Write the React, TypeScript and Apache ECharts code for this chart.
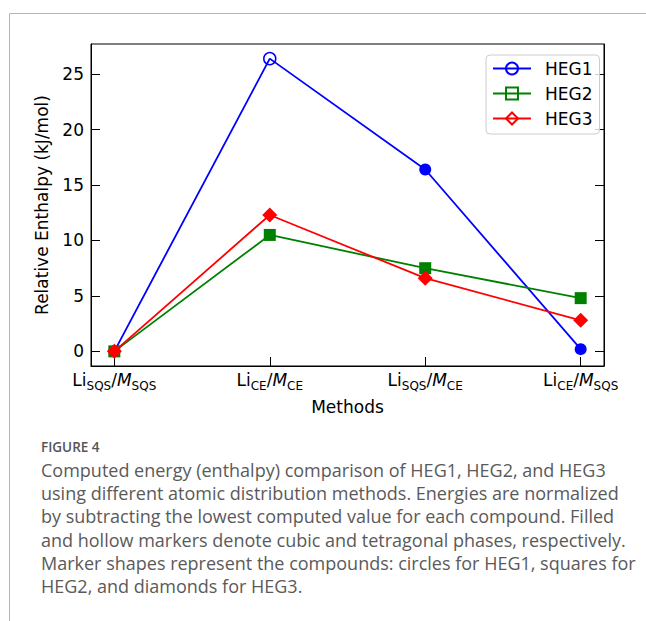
import React, { useEffect, useRef } from "react";
import * as echarts from "echarts";

// ---- data ----
const methodLi = ["SQS", "CE", "SQS", "CE"];
const methodM = ["SQS", "CE", "CE", "SQS"];
const seriesNames = ["HEG1", "HEG2", "HEG3"];
const heg1 = [0, 26.4, 16.4, 0.2];
const heg2 = [0, 10.5, 7.5, 4.8];
const heg3 = [0, 12.3, 6.6, 2.8];
// hollow (tetragonal) markers
const heg1Hollow = [false, true, false, false];
const heg2Hollow = [false, false, false, false];
const heg3Hollow = [false, false, false, false];
const yTicks = [0, 5, 10, 15, 20, 25];
const xTicks = [0, 1, 2, 3];
const captionTitle = "FIGURE 4";
const captionLines = [
  "Computed energy (enthalpy) comparison of HEG1, HEG2, and HEG3",
  "using different atomic distribution methods. Energies are normalized",
  "by subtracting the lowest computed value for each compound. Filled",
  "and hollow markers denote cubic and tetragonal phases, respectively.",
  "Marker shapes represent the compounds: circles for HEG1, squares for",
  "HEG2, and diamonds for HEG3.",
];

const FONT = "DejaVu Sans";
const CAPFONT = "Open Sans";

export default function App() {
  const ref = useRef<HTMLDivElement>(null);
  useEffect(() => {
    if (!ref.current) return;
    const chart = echarts.init(ref.current, null, { renderer: "svg" });
    const colors = ["#0000ff", "#008000", "#ff0000"];
    const symbols = ["circle", "rect", "diamond"];
    const sizes = [12, 12, 15];
    const values = [heg1, heg2, heg3];
    const hollows = [heg1Hollow, heg2Hollow, heg3Hollow];

    const series = seriesNames.map((name, k) => ({
      name,
      type: "line",
      symbol: symbols[k],
      symbolSize: sizes[k],
      z: 2 + k,
      lineStyle: { color: colors[k], width: 1.8 },
      itemStyle: { color: "rgba(0,0,0,0)", borderColor: colors[k], borderWidth: 1.5 },
      emphasis: { disabled: true },
      data: values[k].map((v, i) => ({
        value: [i, v],
        itemStyle: hollows[k][i]
          ? { color: "rgba(0,0,0,0)", borderColor: colors[k], borderWidth: 1.5 }
          : { color: colors[k], borderColor: colors[k], borderWidth: 0 },
      })),
    }));

    const rich = {
      b: { fontSize: 17, fontFamily: FONT, color: "#000", lineHeight: 20, verticalAlign: "top" },
      i: { fontSize: 17, fontFamily: FONT, fontStyle: "italic", color: "#000", lineHeight: 20, verticalAlign: "top" },
      s: { fontSize: 12, fontFamily: FONT, color: "#000", lineHeight: 12, padding: [9, 0, 0, 0], verticalAlign: "top" },
    };

    const graphic: any[] = [
      { type: "line", shape: { x1: 9.5, y1: 13.5, x2: 646, y2: 13.5 }, style: { stroke: "#b5b5b5", lineWidth: 1 } },
      { type: "line", shape: { x1: 9.5, y1: 13.5, x2: 9.5, y2: 621 }, style: { stroke: "#b5b5b5", lineWidth: 1 } },
      {
        type: "text",
        x: 41,
        y: 447,
        style: { text: captionTitle, fontSize: 13.5, fontWeight: 600, fontFamily: CAPFONT, fill: "#555", verticalAlign: "middle" },
      },
      ...captionLines.map((t, i) => ({
        type: "text",
        x: 41,
        y: 470 + i * 23.2,
        style: { text: t, fontSize: 18, fontFamily: CAPFONT, fill: "#5a5a5a", verticalAlign: "middle" },
      })),
    ];

    chart.setOption({
      animation: false,
      grid: { left: 91, top: 44, right: 42, bottom: 255, show: true, borderColor: "#000", borderWidth: 1 },
      legend: {
        orient: "vertical",
        left: 486,
        top: 55,
        data: seriesNames,
        itemWidth: 38,
        itemHeight: 15,
        itemGap: 8,
        padding: [5, 7, 7, 6],
        backgroundColor: "rgba(255,255,255,0.8)",
        borderColor: "#cccccc",
        borderWidth: 1,
        borderRadius: 4,
        textStyle: { fontSize: 17, fontFamily: FONT, color: "#000", padding: [0, 0, 0, 9] },
        selectedMode: false,
      },
      xAxis: {
        type: "value",
        min: -0.15,
        max: 3.15,
        name: "Methods",
        nameLocation: "middle",
        nameGap: 32,
        nameTextStyle: { fontSize: 17, fontFamily: FONT, color: "#000" },
        axisLine: { show: true, onZero: false, lineStyle: { color: "#000", width: 1 } },
        axisTick: { show: true, inside: true, length: 9, customValues: xTicks, lineStyle: { color: "#000" } },
        axisLabel: {
          customValues: xTicks,
          margin: 5,
          formatter: (v: number) => {
            const i = Math.round(v);
            return `{b|Li}{s|${methodLi[i]}}{b|/}{i|M}{s|${methodM[i]}}`;
          },
          rich,
        },
        splitLine: { show: false },
      },
      yAxis: [
        {
          type: "value",
          min: -1.32,
          max: 27.72,
          name: "Relative Enthalpy (kJ/mol)",
          nameLocation: "middle",
          nameGap: 41,
          nameTextStyle: { fontSize: 17, fontFamily: FONT, color: "#000" },
          axisLine: { show: true, onZero: false, lineStyle: { color: "#000", width: 1 } },
          axisTick: { show: true, inside: true, length: 9, customValues: yTicks, lineStyle: { color: "#000" } },
          axisLabel: { customValues: yTicks, margin: 7, fontSize: 17, fontFamily: FONT, color: "#000" },
          splitLine: { show: false },
        },
        {
          type: "value",
          position: "right",
          min: -1.32,
          max: 27.72,
          axisLine: { show: true, onZero: false, lineStyle: { color: "#000", width: 1 } },
          axisTick: { show: true, inside: true, length: 9, customValues: yTicks, lineStyle: { color: "#000" } },
          axisLabel: { show: false },
          splitLine: { show: false },
        },
      ],
      series,
      graphic,
    });
    return () => chart.dispose();
  }, []);
  return (
    <div
      ref={ref}
      style={{ position: "fixed", left: 0, top: 0, width: 646, height: 621, background: "#fff" }}
    />
  );
}
